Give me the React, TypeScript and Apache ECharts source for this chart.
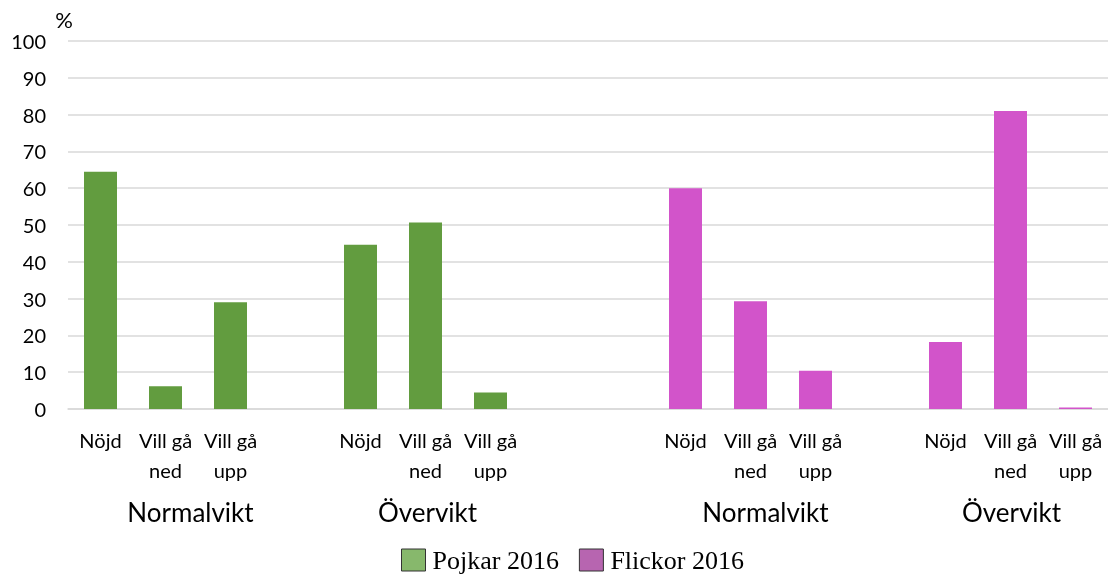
import React, { useEffect, useRef } from "react";
import * as echarts from "echarts";

const categories = [
  "Nöjd", "Vill gå\nned", "Vill gå\nupp", "",
  "Nöjd", "Vill gå\nned", "Vill gå\nupp", "", "",
  "Nöjd", "Vill gå\nned", "Vill gå\nupp", "",
  "Nöjd", "Vill gå\nned", "Vill gå\nupp",
];
const groupLabels = [
  "", "Normalvikt", "", "",
  "", "Övervikt", "", "", "",
  "", "Normalvikt", "", "",
  "", "Övervikt", "",
];
const groupShift = [0, 25, 0, 0, 0, 2, 0, 0, 0, 0, 15, 0, 0, 0, 1, 0];
const pojkar = [64.5, 6.2, 29, null, 44.6, 50.7, 4.5, null, null, null, null, null, null, null, null, null];
const flickor = [null, null, null, null, null, null, null, null, null, 60, 29.3, 10.4, null, 18.2, 81, 0.4];
const yTicks = { min: 0, max: 100, interval: 10 };

export default function App() {
  const ref = useRef<HTMLDivElement>(null);
  useEffect(() => {
    const chart = echarts.init(ref.current!, null, { renderer: "svg" });
    const font = "Lato, 'Open Sans', sans-serif";
    chart.setOption({
      animation: false,
      grid: { left: 68, top: 41, width: 1040, height: 368, containLabel: false },
      legend: {
        bottom: 1,
        left: 396,
        itemWidth: 24,
        itemHeight: 22,
        itemGap: 20,
        icon: "rect",
        textStyle: { fontFamily: "'Liberation Serif', 'DejaVu Serif', serif", fontSize: 26, color: "#000", padding: [0, 0, 0, 2] },
        data: [
          { name: "Pojkar 2016", itemStyle: { color: "#87b86c", borderColor: "#333", borderWidth: 1 } },
          { name: "Flickor 2016", itemStyle: { color: "#b765b0", borderColor: "#333", borderWidth: 1 } },
        ],
      },
      xAxis: [
        {
          type: "category",
          data: categories,
          axisLine: { lineStyle: { color: "#d9d9d9", width: 1.5 } },
          axisTick: { show: false },
          axisLabel: { interval: 0, fontFamily: font, fontSize: 20, color: "#000", lineHeight: 30, margin: 16 },
        },
        {
          type: "category",
          position: "bottom",
          data: groupLabels.map((g, i) => ({
            value: g,
            textStyle: { padding: [0, 0, 0, groupShift[i] * 2] },
          })),
          axisLine: { show: false },
          axisTick: { show: false },
          axisLabel: { interval: 0, fontFamily: font, fontSize: 26, color: "#000", lineHeight: 28, margin: 89 },
        },
      ],
      yAxis: {
        type: "value",
        ...yTicks,
        name: "%",
        nameGap: 11,
        nameTextStyle: { fontFamily: font, fontSize: 22, color: "#000", align: "right", padding: [0, -5, 0, 0] },
        axisLine: { show: false },
        axisTick: { show: false },
        axisLabel: { fontFamily: font, fontSize: 20, color: "#000", margin: 22 },
        splitLine: { lineStyle: { color: "#d9d9d9", width: 1.5 } },
      },
      series: [
        { name: "Pojkar 2016", type: "bar", stack: "a", barWidth: 33, data: pojkar, itemStyle: { color: "#629c3f" } },
        { name: "Flickor 2016", type: "bar", stack: "a", barWidth: 33, data: flickor, itemStyle: { color: "#d254ca" } },
      ],
    });
    return () => chart.dispose();
  }, []);
  return <div ref={ref} style={{ position: "fixed", left: 0, top: 0, width: 1108, height: 579 }} />;
}
